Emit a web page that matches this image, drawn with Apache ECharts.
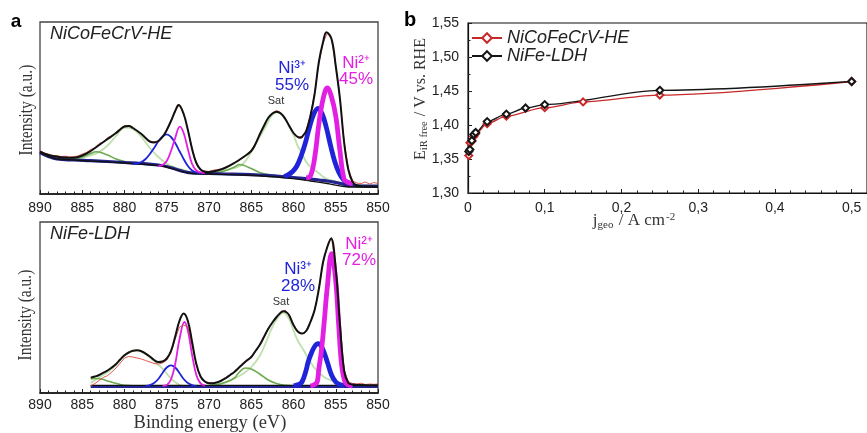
<!DOCTYPE html>
<html>
<head>
<meta charset="utf-8">
<script src="https://cdn.jsdelivr.net/npm/echarts@6/dist/echarts.min.js"></script>
<style>
  html, body { margin: 0; padding: 0; background: #fff; }
  #chart { width: 867px; height: 433px; }
</style>
</head>
<body>
<div id="chart"></div>
<script>
// ---------- Panel a, upper spectrum: NiCoFeCrV-HE, Ni 2p region ----------
// Each curve is a list of [binding energy (eV), intensity (a.u.)]
const heEnvelope = [[890,42.3],[889,39],[888,37.3],[887,36.5],[886,36.3],[885,38.5],[884,43],[883,49],[882,55],[881,61],[880,67.5],[879.5,68],[879,66],[878,60],[877.5,56],[877,52.5],[876.5,51.5],[876,53],[875.5,57],[875,64],[874.5,73],[874,83],[873.6,89],[873,80],[872.5,64],[872,45],[871.5,31],[871,24.5],[870.5,22.3],[870,22],[869,23.5],[868,26.5],[867,31],[866,36.5],[865,43],[864.5,50],[864,59.5],[863.5,68],[863,76],[862.5,80.5],[862,82.3],[861.5,80.5],[861,75.5],[860.5,68],[860,61],[859.5,57],[859.2,56.3],[859,57],[858.5,63],[858,78],[857.5,100],[857,132],[856.5,152],[856.1,161.7],[855.5,155],[855,128],[854.5,95],[854,51],[853.5,24],[853,12],[852.5,8.5],[852,7.8],[851,7.5],[850,7.3]];
const heRaw = [[890,43.5],[889.5,41],[889,40],[888.5,38],[888,38.5],[887.5,37.5],[887,37.8],[886.5,37],[886,37.5],[885.5,38],[885,40],[884.5,41.5],[884,44.5],[883.5,46],[883,50.5],[882.5,52],[882,56.5],[881.5,58],[881,62],[880.5,65],[880,68.5],[879.5,68.5],[879,66.5],[878.5,63],[878,60.5],[877.5,56.5],[877,52],[876.5,52.5],[876,52],[875.5,57.5],[875,63.5],[874.5,73.5],[874,82.5],[873.5,89.5],[873,80.5],[872.5,64.5],[872,45],[871.5,31.5],[871,24],[870.5,23],[870,22.5],[869.5,23.8],[869,24.5],[868.5,25],[868,27],[867.5,28.5],[867,31.5],[866.5,33],[866,37],[865.5,39.5],[865,44],[864.5,50.5],[864,59],[863.5,68.5],[863,76.5],[862.5,81],[862,83.5],[861.5,81.5],[861,76],[860.5,68],[860,61],[859.5,57.5],[859,57.5],[858.5,63.5],[858,79],[857.5,101],[857,131],[856.5,151],[856,161],[855.5,155],[855,128],[854.5,95],[854,52],[853.5,25],[853,13],[852.5,11],[852,10.5],[851.5,12],[851,10],[850.5,11.5],[850,10.5]];
const heBackground = [[890,41.5],[889,37.5],[888,35],[886,34],[884,33.3],[882,32.5],[880,31.5],[878,30.5],[876,29],[875,27.5],[874,25],[873,22.5],[872,21],[870,20.5],[868,20],[866,19.7],[864,19],[862,18],[860,16.5],[858,15],[857,14],[856,13],[855,11.5],[854,9.7],[853,8.5],[852,8],[850,7.8]];
const heShirley = [[890,41.5],[889,37.3],[888,35],[886,34],[884,33],[880,31],[876,28.5],[875,27],[874,24.5],[873,22],[872,20.5],[870,20],[866,19],[862,17],[860,15.3],[858,13],[856,10.5],[855,8.8],[854,7.5],[853,7],[850,7]];
const heNi3Main = [[861.1,17.5],[860.6,19.5],[860.1,22.5],[859.6,28],[859.1,38],[858.6,51],[858.1,67],[857.6,80],[857.1,85.7],[856.6,80],[856.1,66],[855.6,48],[855.1,32],[854.6,21],[854.1,14.5],[853.6,11.5],[853.1,10]];
const heNi2Main = [[858.5,16],[858,18],[857.5,36],[857,70],[856.5,95],[856,106],[855.5,97],[855,78],[854.5,43],[854,14.5],[853.5,11.5],[853,10.5]];
const heNi3Minor = [[879,30],[878.5,30.5],[878,32],[877.5,35],[877,40],[876.5,46],[876,52.5],[875.5,57.5],[875,59.7],[874.5,57],[874,51],[873.5,43],[873,35],[872.5,28],[872,23.5],[871.5,21.5],[871,21]];
const heNi2Minor = [[876,28],[875.5,29],[875,33],[874.5,43],[874,56],[873.45,67.3],[873,61],[872.5,45],[872,30],[871.5,23.5],[871,21.5],[870.5,21]];
const heSatHigh = [[888,35],[887,34.5],[886,35],[885,36.5],[884,38.5],[883,42],[882,48.5],[881,58],[880,66.5],[879,65],[878,57],[877,46],[876,37],[875,30.5],[874,26.5],[873,24],[872,21.5],[871,20.5]];
const heSatHighSmall = [[888,35],[887,34.5],[886,35],[885,37],[884,40.5],[883.4,42.3],[883,42],[882,39],[881,35],[880,32.5],[879,31],[878,30.5]];
const heSatLow = [[871,20.5],[870,21],[869,22],[868,24],[867,26],[866,30],[865,42],[864.5,50],[864,57],[863,72],[862.6,78],[862,81.7],[861.5,80],[860.8,72.3],[860,59],[859.5,48],[859,40.7],[858.5,32],[858,27.3],[857,20.7],[856.2,15.7],[855,12.5],[854,11],[853,10],[852,9],[851,8.5],[850,8]];
const heSatLowSmall = [[870,21],[869,21.5],[868,23.5],[867,27],[866.4,29.5],[866,29],[865,25.5],[864,21.5],[863,19.5],[862,18.5]];

// ---------- Panel a, lower spectrum: NiFe-LDH ----------
const ldhEnvelope = [[884,15.4],[883.5,16.5],[883,18],[882.5,20.3],[882,22.5],[881.5,25.5],[881,29],[880.5,33.5],[880,37.7],[879.5,40.5],[879,42.3],[878.5,42.7],[878,41.8],[877.5,39.4],[877,36.5],[876.5,33],[876,31],[875.5,31.5],[875,34.5],[874.5,42],[874,56.5],[873.5,72],[873,79.4],[872.5,72],[872,51],[871.5,29],[871,16.5],[870.5,11.5],[870,9.8],[869.5,9.8],[869,10.8],[868.5,12.5],[868,15],[867.5,18],[867,21],[866.5,25],[866,29],[865.5,32.7],[865,36],[864.5,42],[864,48],[863.5,56],[863,64],[862.5,70.5],[862,76],[861.5,80.5],[861.2,81.7],[860.8,80.5],[860.5,77.5],[860,68],[859.5,61.5],[859,59.4],[858.5,62],[858,71],[857.5,83],[857,104],[856.5,131],[856,146],[855.55,154.4],[855,124],[854.5,68],[854,22],[853.5,10],[853,8.5],[852,8],[851,7.8],[850,7.7]];
const ldhRaw = [[884,7],[883.5,9.5],[883,12.5],[882.5,15.5],[882,17.5],[881.5,21],[881,25],[880.5,30],[880,35],[879.5,36.5],[879,36],[878.5,35],[878,34],[877.5,32.5],[877,31],[876.5,29.5],[876,29],[875.5,30],[875,33],[874.5,40],[874,54],[873.5,66],[873,68],[872.5,66],[872,48],[871.5,28],[871,16],[870.5,11],[870,10.5],[869.5,10],[869,11],[868.5,13],[868,14.5],[867.5,17.5],[867,21.5],[866.5,25.5],[866,28.5],[865.5,32],[865,35],[864.5,41.5],[864,48.5],[863.5,55.5],[863,64.5],[862.5,70],[862,76.5],[861.5,80],[861,83],[860.5,78],[860,68.5],[859.5,62],[859,59],[858.5,62.5],[858,71.5],[857.5,83],[857,104.5],[856.5,130],[856,147],[855.5,155.5],[855,124.5],[854.5,69],[854,23],[853.5,11],[853,9.5],[852.5,9],[852,9.8],[851.5,8.5],[851,9],[850.5,8.7],[850,9]];
const ldhBackground = [[884,6.5],[850,6.5]];
const ldhShirley = [[884,7.6],[850,7.6]];
const ldhNi2Main = [[858,7],[857.5,8.5],[857.2,11],[857,24],[856.7,42],[856.4,67.7],[856,106],[855.5,139.4],[855,112],[854.65,67.7],[854.3,27.7],[853.9,11],[853.5,8],[853,7]];
const ldhNi3Main = [[860,7.2],[859.5,8.2],[859,11],[858.5,23],[858.3,30],[858,37.5],[857.5,46.5],[857.1,49.4],[856.6,45],[856,31],[855.5,18],[855,11],[854.5,8.2],[854,7.3]];
const ldhNi3Minor = [[877.5,7.2],[877,8],[876.5,10],[876,14],[875.5,20],[875,25.5],[874.5,27.7],[874,25.5],[873.5,20],[873,14],[872.5,10],[872,8],[871.5,7.2]];
const ldhNi2Minor = [[875.5,7.2],[875,8],[874.5,13.5],[874,29],[873.5,53.5],[872.9,71],[872.5,62.5],[872,38],[871.5,18],[871,9.6],[870.5,7.5]];
const ldhSatHigh = [[884,10],[883,15.5],[882,21],[881,28],[880.4,34.4],[880,37.5],[879.5,40.5],[878.7,42.7],[878,41.5],[877.3,37.7],[876.5,32],[875.7,26],[875,19.5],[874.5,14.4],[874,11],[873.4,7.7],[873,7.2]];
const ldhSatHighSmall = [[884,14],[883.5,14.5],[883,14.2],[882.5,13.4],[882,12],[881.2,10],[880.5,8.5],[880,7.8],[879,7.2]];
const ldhSatLow = [[870,7.5],[869,8.5],[868,10.5],[867,14.5],[866,19],[865,26],[864,37],[863,56],[862.5,66],[862,73.5],[861.2,80.4],[860.5,73.5],[860,62.7],[859.5,52.5],[858.8,42.7],[858,31],[857.6,26],[857,20.5],[856.4,16],[855.5,12.5],[854.85,11],[854,9.5],[852.9,8.4],[852,7.8],[851,7.4],[850,7.2]];
const ldhSatLowSmall = [[870,7.5],[869,8.5],[868,11],[867,15],[866.5,20],[865.7,25],[865,24],[864,19],[863,13],[862,9.5],[861,7.8],[860,7.2]];

// Binding-energy ticks for both spectra
const energyMin = 850, energyMax = 890, energyStep = 5;

// ---------- Panel b: iR-free potential vs. geometric current density ----------
const jHE  = [0.001, 0.0025, 0.005, 0.0075, 0.01, 0.025, 0.05, 0.1, 0.15, 0.25, 0.5];
const eHE  = [1.355, 1.374, 1.376, 1.383, 1.387, 1.402, 1.413, 1.4255, 1.434, 1.444, 1.464];
const jLDH = [0.001, 0.0025, 0.005, 0.0075, 0.01, 0.025, 0.05, 0.075, 0.1, 0.25, 0.5];
const eLDH = [1.361, 1.364, 1.377, 1.386, 1.389, 1.405, 1.416, 1.425, 1.430, 1.451, 1.464];
const potentialMin = 1.30, potentialMax = 1.55, potentialStep = 0.05;
const currentMin = 0, currentStep = 0.1;

// ---------- Styling ----------
const SANS = 'Liberation Sans, Arial, sans-serif';
const SERIF = 'Liberation Serif, Times New Roman, serif';
const C = {
  envelope: '#111111',
  raw: '#d8473f',
  background: '#24248e',
  blue: '#1f24d8',
  magenta: '#e21fe2',
  lightGreen: '#bfe0ad',
  darkGreen: '#6cab4f',
  he: '#c8282a',
  ldh: '#151515',
  text: '#222222'
};

function curve(data, axis, color, width, extra) {
  return Object.assign({
    type: 'line',
    xAxisIndex: axis, yAxisIndex: axis,
    data: data,
    showSymbol: false, symbol: 'none',
    smooth: 0.4,
    lineStyle: { color: color, width: width },
    itemStyle: { color: color },
    silent: true, animation: false
  }, extra || {});
}

function spectrumSeries(axis, s) {
  return [
    curve(s.satHigh, axis, C.lightGreen, 1.8),
    curve(s.satLow, axis, C.lightGreen, 1.8),
    curve(s.satHighSmall, axis, C.darkGreen, 1.6),
    curve(s.satLowSmall, axis, C.darkGreen, 1.6),
    curve(s.background, axis, C.background, 3.2),
    curve(s.shirley, axis, C.envelope, 1.3),
    curve(s.ni3Minor, axis, C.blue, 1.8),
    curve(s.ni2Minor, axis, C.magenta, 1.8),
    curve(s.ni3Main, axis, C.blue, 4.8),
    curve(s.ni2Main, axis, C.magenta, 4.8),
    curve(s.raw, axis, C.raw, 0.9, { smooth: false, opacity: 0.85 }),
    curve(s.envelope, axis, C.envelope, 2.0)
  ];
}

const energyAxis = (grid, margin) => ({
  type: 'value', gridIndex: grid,
  min: energyMin, max: energyMax, interval: energyStep, inverse: true,
  axisLine: { show: true, onZero: false, lineStyle: { color: '#111', width: 1.5 } },
  axisTick: { show: true, inside: true, length: 4, lineStyle: { color: '#222', width: 1 } },
  minorTick: { show: true, splitNumber: 5, length: 2.5, lineStyle: { color: '#222', width: 1 } },
  splitLine: { show: false },
  axisLabel: { margin: margin, fontFamily: SANS, fontSize: 14, color: C.text }
});
const intensityAxis = (grid, top) => ({
  type: 'value', gridIndex: grid, min: 0, max: top,
  axisLine: { show: false }, axisTick: { show: false }, axisLabel: { show: false }, splitLine: { show: false }
});

const comma = v => v.toFixed(2).replace('.', ',');
const currentLabel = v => {
  const k = Math.round(v * 10);
  if (Math.abs(v * 10 - k) > 1e-6) return '';
  return k === 0 ? '0' : (k / 10).toFixed(1).replace('.', ',');
};

const polarizationSeries = (name, xs, ys, color) => ({
  name: name, type: 'line', xAxisIndex: 2, yAxisIndex: 2,
  data: xs.map((x, i) => [x, ys[i]]),
  smooth: 0.3, smoothMonotone: 'x',
  symbol: 'emptyDiamond', symbolSize: 7, showSymbol: true,
  lineStyle: { color: color, width: 1.3 },
  itemStyle: { color: color, borderColor: color, borderWidth: 1.3 },
  animation: false
});

const chart = echarts.init(document.getElementById('chart'), null, { renderer: 'canvas' });

const textStyle = (o) => Object.assign({ fill: C.text, fontFamily: SANS, align: 'center', verticalAlign: 'middle' }, o);

chart.setOption({
  backgroundColor: '#ffffff',
  animation: false,
  grid: [
    { left: 40, top: 22, width: 338, height: 172, show: true, borderColor: '#444', borderWidth: 1.3, backgroundColor: 'transparent' },
    { left: 40, top: 222, width: 338, height: 171, show: true, borderColor: '#444', borderWidth: 1.3, backgroundColor: 'transparent' },
    { left: 468, top: 23, width: 407, height: 170, show: true, borderColor: '#111', borderWidth: 1.1, backgroundColor: 'transparent' }
  ],
  xAxis: [
    energyAxis(0, 7),
    energyAxis(1, 5),
    {
      type: 'value', gridIndex: 2, min: currentMin, max: 0.52, interval: currentStep,
      axisLine: { show: true, onZero: false, lineStyle: { color: '#111', width: 1.2 } },
      axisTick: { show: true, inside: true, length: 4, lineStyle: { color: '#222' } },
      minorTick: { show: true, splitNumber: 5, length: 2.5, lineStyle: { color: '#222' } },
      splitLine: { show: false },
      axisLabel: { margin: 8, fontFamily: SANS, fontSize: 14, color: C.text, formatter: currentLabel, showMaxLabel: false }
    }
  ],
  yAxis: [
    intensityAxis(0, 172),
    intensityAxis(1, 171),
    {
      type: 'value', gridIndex: 2, min: potentialMin, max: potentialMax, interval: potentialStep,
      axisLine: { show: true, lineStyle: { color: '#111', width: 1.2 } },
      axisTick: { show: true, inside: true, length: 4, lineStyle: { color: '#222' } },
      minorTick: { show: true, splitNumber: 2, length: 2.5, lineStyle: { color: '#222' } },
      splitLine: { show: false },
      axisLabel: { margin: 9, fontFamily: SANS, fontSize: 14, color: C.text, formatter: comma }
    }
  ],
  legend: {
    data: ['NiCoFeCrV-HE', 'NiFe-LDH'],
    orient: 'vertical', left: 471, top: 29, padding: 0,
    itemWidth: 30, itemHeight: 12, itemGap: 0,
    textStyle: { fontFamily: SANS, fontStyle: 'italic', fontSize: 18, color: C.text }
  },
  series: [
    ...spectrumSeries(0, {
      envelope: heEnvelope, raw: heRaw, background: heBackground, shirley: heShirley,
      ni3Main: heNi3Main, ni2Main: heNi2Main, ni3Minor: heNi3Minor, ni2Minor: heNi2Minor,
      satHigh: heSatHigh, satHighSmall: heSatHighSmall, satLow: heSatLow, satLowSmall: heSatLowSmall
    }),
    ...spectrumSeries(1, {
      envelope: ldhEnvelope, raw: ldhRaw, background: ldhBackground, shirley: ldhShirley,
      ni3Main: ldhNi3Main, ni2Main: ldhNi2Main, ni3Minor: ldhNi3Minor, ni2Minor: ldhNi2Minor,
      satHigh: ldhSatHigh, satHighSmall: ldhSatHighSmall, satLow: ldhSatLow, satLowSmall: ldhSatLowSmall
    }),
    polarizationSeries('NiCoFeCrV-HE', jHE, eHE, C.he),
    polarizationSeries('NiFe-LDH', jLDH, eLDH, C.ldh)
  ],
  graphic: [
    // panel letters
    { type: 'text', x: 16, y: 22, style: textStyle({ text: 'a', fontSize: 19, fontWeight: 'bold', fill: '#000' }) },
    { type: 'text', x: 410, y: 20, style: textStyle({ text: 'b', fontSize: 20, fontWeight: 'bold', fill: '#000' }) },
    // sample names
    { type: 'text', x: 50, y: 34, style: textStyle({ text: 'NiCoFeCrV-HE', fontSize: 18, fontStyle: 'italic', align: 'left' }) },
    { type: 'text', x: 50, y: 234, style: textStyle({ text: 'NiFe-LDH', fontSize: 18, fontStyle: 'italic', align: 'left' }) },
    // intensity titles (glyphs slightly tall, as set in the figure)
    { type: 'text', x: 27, y: 110, rotation: Math.PI / 2, scaleY: 1.18, style: textStyle({ text: 'Intensity (a.u.)', fontSize: 15.5, fontFamily: SERIF, fill: '#333' }) },
    { type: 'text', x: 26, y: 315, rotation: Math.PI / 2, scaleY: 1.18, style: textStyle({ text: 'Intensity (a.u.)', fontSize: 15.5, fontFamily: SERIF, fill: '#333' }) },
    { type: 'text', x: 210, y: 423, style: textStyle({ text: 'Binding energy (eV)', fontSize: 18.5, fontFamily: SERIF, fill: '#333' }) },
    // peak annotations, upper spectrum
    { type: 'text', x: 276, y: 101, style: textStyle({ text: 'Sat', fontSize: 11, fill: '#333' }) },
    { type: 'text', x: 292, y: 77, style: textStyle({ text: 'Ni³⁺\n55%', fontSize: 17, lineHeight: 17, fill: C.blue }) },
    { type: 'text', x: 356, y: 71, style: textStyle({ text: 'Ni²⁺\n45%', fontSize: 17, lineHeight: 16, fill: C.magenta }) },
    // peak annotations, lower spectrum
    { type: 'text', x: 281, y: 302, style: textStyle({ text: 'Sat', fontSize: 11, fill: '#333' }) },
    { type: 'text', x: 298, y: 278, style: textStyle({ text: 'Ni³⁺\n28%', fontSize: 17, lineHeight: 17, fill: C.blue }) },
    { type: 'text', x: 359, y: 252, style: textStyle({ text: 'Ni²⁺\n72%', fontSize: 17, lineHeight: 16, fill: C.magenta }) },
    // panel b axis titles
    { type: 'text', x: 421, y: 99, rotation: Math.PI / 2, style: textStyle({
        text: '{m|E}{s|iR free}{m| / V vs. RHE}', fill: '#333',
        rich: {
          m: { fontFamily: SERIF, fontSize: 16, fill: '#333' },
          s: { fontFamily: SERIF, fontSize: 10.5, fill: '#333', padding: [7, 1, 0, 0] }
        } }) },
    { type: 'text', x: 634, y: 221, style: textStyle({
        text: '{m|j}{s|geo}{m| / A cm}{p|-2}', fill: '#333',
        rich: {
          m: { fontFamily: SERIF, fontSize: 17, fill: '#333' },
          s: { fontFamily: SERIF, fontSize: 11, fill: '#333', padding: [8, 1, 0, 0] },
          p: { fontFamily: SERIF, fontSize: 11, fill: '#333', padding: [0, 0, 8, 1] }
        } }) }
  ]
});
</script>
</body>
</html>
